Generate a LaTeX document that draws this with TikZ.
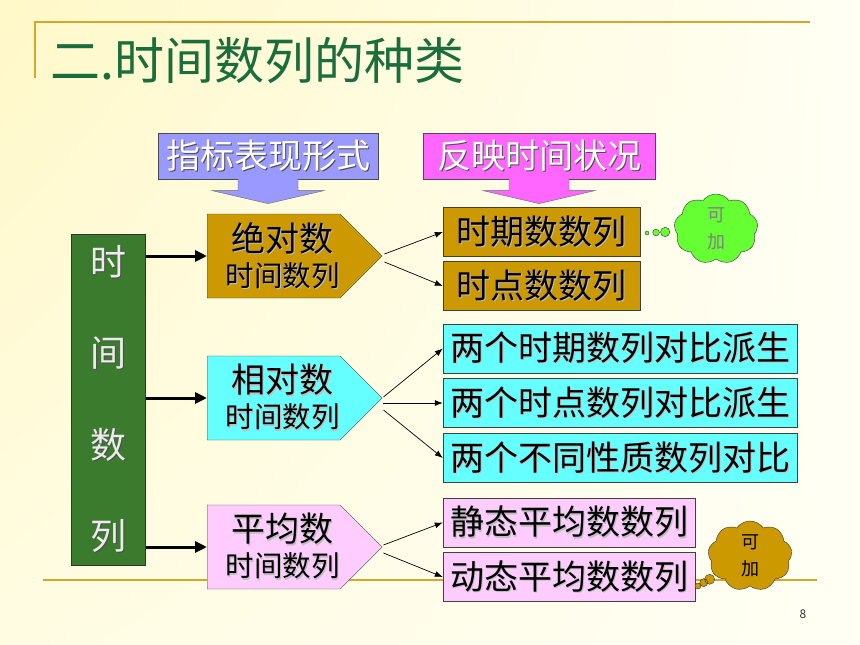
\documentclass[tikz,border=0pt]{standalone}
\usepackage{fontspec}
\newfontfamily\cjk{Noto Sans CJK SC}
\usetikzlibrary{shapes,arrows.meta,positioning,shadings,
  shapes.symbols,shapes.callouts
}
\definecolor{linegold}{HTML}{D4A62A}
\definecolor{titlegreen}{HTML}{1A6E3C}
\definecolor{boxgreen}{HTML}{3B7B2E}
\definecolor{gold}{HTML}{CC9900}
\definecolor{cyanbox}{HTML}{66FFFF}
\definecolor{pinkbox}{HTML}{FFCCFF}
\definecolor{lavender}{HTML}{9999FF}
\definecolor{magentabox}{HTML}{FF66FF}
\definecolor{cloudgreen}{HTML}{66FF33}
\definecolor{bgyellow}{HTML}{FFF8C8}
\definecolor{bgivory}{HTML}{FFFFF4}
\newcommand{\shd}[2]{\makebox[0pt][l]{\kern1.2pt\raisebox{-1.2pt}{\textcolor{#1}{#2}}}#2}

\begin{document}
\begin{tikzpicture}[
    x=1pt, y=-1pt,
    every node/.style={
        font=\cjk,
        inner sep=0pt
    },
    kopf/.style={
        rectangle, draw=black!70, fill=#1,
        text=white, minimum height=46pt,
        font=\cjk\fontsize{34}{34}\selectfont
    },
    zweig/.style={
        signal, signal to=east, signal pointer angle=90,
        draw=black!75, fill=#1,
        minimum width=175pt, minimum height=84pt,
        align=center, font=\cjk\fontsize{28.5}{35}\selectfont
    },
    blatt/.style={
        rectangle, draw=black!75, fill=#1,
        minimum height=49pt,
        font=\cjk\fontsize{34}{34}\selectfont
    },
    wolke/.style={
        cloud callout, cloud puffs=9, cloud puff arc=110, aspect=1.3,
        draw=black!80, fill=#1,
        callout pointer segments=3,
        align=center, font=\cjk\fontsize{18}{27}\selectfont
    },
    dickpfeil/.style={line width=3pt, -{Triangle[length=12pt,width=11pt]}},
    duennpfeil/.style={line width=0.7pt, -{Latex[length=8pt,width=6pt]}}
]
\shade[upper left=bgyellow, upper right=bgivory,
       lower left=bgivory!60!bgyellow, lower right=bgivory]
      (0,0) rectangle (860,645);
\useasboundingbox (0,0) rectangle (860,645);

% frame lines
\draw[linegold, line width=1.6pt] (35,78) -- (35,22) -- (810,22);
\draw[linegold, line width=1.4pt] (43,580) -- (817,580);

\node[anchor=west, text=titlegreen, font=\cjk\fontsize{50}{50}\selectfont]
    (titel) at (50,61) {二.时间数列的种类};

% headings with down arrows
\node[kopf=lavender, minimum width=220pt] (zhibiao) at (268,156)
    {\shd{black!70}{指标表现形式}};
\node[kopf=magentabox, minimum width=232pt] (fanying) at (539,156)
    {\shd{black!70}{反映时间状况}};
\foreach \k/\c in {zhibiao/lavender,fanying/magentabox}
  \filldraw[fill=\c, draw=black!60, line width=0.4pt]
    ([xshift=-30pt,yshift=0.6pt]\k.south) -- ++(0,12) -- ++(-26,0)
    -- ++(56,13) -- ++(56,-13) -- ++(-26,0) -- ++(0,-12);

% main column
\node[rectangle, draw=black!80, fill=boxgreen, text=black!8,
      minimum width=74pt, minimum height=331pt, align=center,
      font=\cjk\fontsize{36}{91.5}\selectfont] (shijian) at (108.5,399.5)
    {\shd{black!70}{时}\\\shd{black!70}{间}\\\shd{black!70}{数}\\\shd{black!70}{列}};

\node[zweig=gold, anchor=west] (jueduishu) at (207,256)
    {\hspace*{18pt}{\fontsize{34}{34}\selectfont\shd{black!25}{绝对数}}\\\hspace*{18pt}\shd{black!25}{时间数列}};
\node[zweig=cyanbox, anchor=west] (xiangduishu) at (207,398)
    {\hspace*{18pt}{\fontsize{34}{34}\selectfont\shd{black!25}{相对数}}\\\hspace*{18pt}\shd{black!25}{时间数列}};
\node[zweig=pinkbox, anchor=west] (pingjunshu) at (207,547)
    {\hspace*{18pt}{\fontsize{34}{34}\selectfont\shd{black!25}{平均数}}\\\hspace*{18pt}\shd{black!25}{时间数列}};

\node[blatt=gold, minimum width=197pt] (shiqi) at (541.5,232) {\shd{black!25}{时期数数列}};
\node[blatt=gold, minimum width=197pt] (shidian) at (541.5,286) {\shd{black!25}{时点数数列}};
\node[blatt=cyanbox, minimum width=354pt] (duibiA) at (620,348.5) {\shd{black!25}{两个时期数列对比派生}};
\node[blatt=cyanbox, minimum width=354pt] (duibiB) at (620,403) {\shd{black!25}{两个时点数列对比派生}};
\node[blatt=cyanbox, minimum width=354pt] (duibiC) at (620,458) {\shd{black!25}{两个不同性质数列对比}};
\node[blatt=pinkbox, minimum width=252pt] (jingtai) at (569,522.5) {\shd{black!25}{静态平均数数列}};
\node[blatt=pinkbox, minimum width=252pt] (dongtai) at (569,577) {\shd{black!25}{动态平均数数列}};

% thought clouds
\node[wolke=cloudgreen, text=black!50, minimum width=80pt, minimum height=56pt,
      callout pointer start size=12pt, callout pointer end size=4pt,
      callout absolute pointer={(647,233)}] (kejiaA) at (716,229) {可\\加};
\node[wolke=gold, text=black, minimum width=84pt, minimum height=70pt,
      callout pointer start size=12pt, callout pointer end size=6pt,
      callout absolute pointer={(698,586)}] (kejiaB) at (750,556) {可\\加};

% connectors
\foreach \z in {jueduishu,xiangduishu,pingjunshu}
  \draw[dickpfeil] (shijian.east |- \z.west) -- (\z.west);
\draw[duennpfeil] ([xshift=2pt,yshift=2pt]jueduishu.east) -- (shiqi.west);
\draw[duennpfeil] ([xshift=2pt,yshift=-6pt]jueduishu.east) -- (shidian.west);
\draw[duennpfeil] ([xshift=1pt,yshift=1pt]xiangduishu.east) -- (duibiA.west);
\draw[duennpfeil] ([xshift=1pt,yshift=-5pt]xiangduishu.east) -- (duibiB.west);
\draw[duennpfeil] ([xshift=1pt,yshift=-12pt]xiangduishu.east) -- (duibiC.west);
\draw[duennpfeil] ([xshift=1pt,yshift=2pt]pingjunshu.east) -- (jingtai.west);
\draw[duennpfeil] ([xshift=1pt,yshift=-6pt]pingjunshu.east) -- (dongtai.west);

\node[font=\cjk\fontsize{12}{12}\selectfont, text=black!80] (seite) at (803,614) {8};
\end{tikzpicture}
\end{document}
